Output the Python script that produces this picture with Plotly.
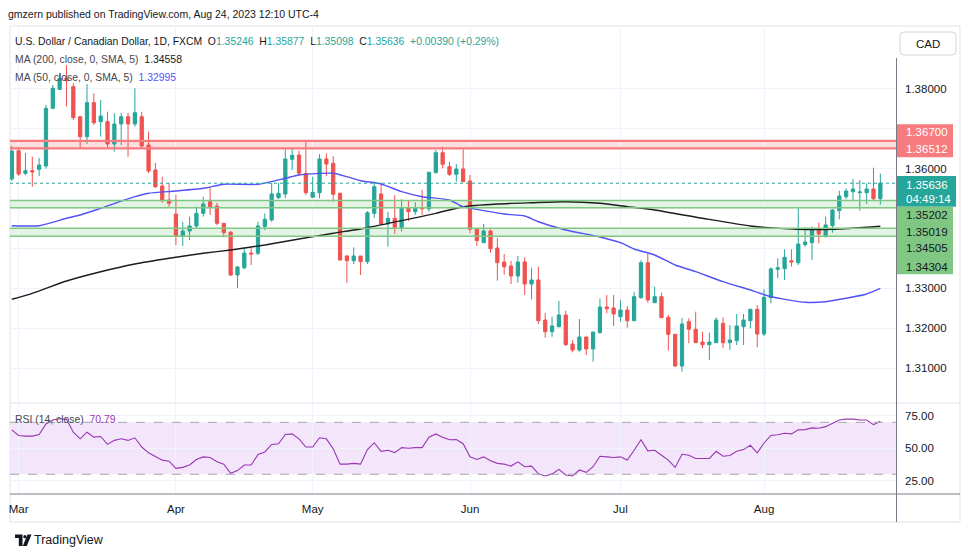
import plotly.graph_objects as go
import pandas as pd

# the page body has an 8px margin; the figure is sized/offset so page pixels match the reference
OFF = 8
W, H = 970 - 2 * OFF, 557 - 2 * OFF

# ---------------- data ----------------
dates = [d.strftime("%Y-%m-%d") for d in pd.bdate_range("2023-02-28", "2023-08-24")]

open_ = [1.35742, 1.36452, 1.35885, 1.3595, 1.35985, 1.36068, 1.37516, 1.37992, 1.38276, 1.38058,
         1.37305, 1.36803, 1.37656, 1.3718, 1.3718, 1.3662, 1.37122, 1.37305, 1.37122, 1.37305,
         1.36595, 1.35968, 1.35566, 1.35215, 1.34864, 1.34319, 1.34437, 1.34563, 1.34881, 1.35172,
         1.35064, 1.3463, 1.34405, 1.33333, 1.33516, 1.33885, 1.33878, 1.34545, 1.34713, 1.35273,
         1.35366, 1.36236, 1.36344, 1.35885, 1.35283, 1.35398, 1.36244, 1.36136, 1.35383, 1.3381,
         1.33692, 1.3381, 1.33667, 1.34881, 1.35366, 1.34613, 1.34756, 1.3452, 1.35007, 1.34921,
         1.35022, 1.34989, 1.359, 1.36402, 1.36051, 1.3586, 1.35993, 1.35692, 1.3448, 1.34144,
         1.34437, 1.34011, 1.3366, 1.33559, 1.33308, 1.3366, 1.33107, 1.33208, 1.32204, 1.31911,
         1.32036, 1.3233, 1.31602, 1.31452, 1.31778, 1.31477, 1.31886, 1.3253, 1.32505, 1.32287,
         1.32455, 1.32187, 1.32764, 1.33642, 1.32638, 1.32789, 1.32272, 1.31845, 1.3105, 1.32162,
         1.31971, 1.31652, 1.31585, 1.31635, 1.32121, 1.31635, 1.31685, 1.32036, 1.32187, 1.32473,
         1.31853, 1.32764, 1.33476, 1.33491, 1.33692, 1.33642, 1.34094, 1.34144, 1.34462, 1.34294,
         1.3457, 1.34947, 1.35298, 1.35423, 1.35398, 1.35398, 1.35491, 1.35246]
high = [1.3657, 1.36552, 1.36394, 1.36301, 1.36269, 1.37599, 1.381, 1.38394, 1.38602, 1.38143,
        1.37305, 1.38125, 1.37892, 1.37724, 1.3743, 1.3739, 1.37405, 1.37398, 1.38018, 1.3743,
        1.36929, 1.36143, 1.358, 1.35642, 1.3534, 1.34663, 1.34796, 1.35047, 1.35298, 1.35524,
        1.3514, 1.3463, 1.34437, 1.3356, 1.34003, 1.3401, 1.3467, 1.34881, 1.35642, 1.35642,
        1.36487, 1.36495, 1.36452, 1.36678, 1.358, 1.36369, 1.36387, 1.36319, 1.35398, 1.33835,
        1.34028, 1.3381, 1.34939, 1.35674, 1.35649, 1.34921, 1.3534, 1.35233, 1.35215, 1.35157,
        1.35466, 1.3591, 1.3647, 1.36552, 1.36176, 1.36118, 1.36487, 1.35842, 1.3448, 1.34613,
        1.3448, 1.34262, 1.3386, 1.33692, 1.3381, 1.33777, 1.33516, 1.33542, 1.32387, 1.32287,
        1.32681, 1.32437, 1.31702, 1.32229, 1.31778, 1.31903, 1.32749, 1.32831, 1.32831, 1.32706,
        1.32555, 1.32914, 1.3371, 1.33878, 1.3304, 1.32889, 1.3233, 1.31853, 1.32254, 1.32247,
        1.32413, 1.31911, 1.31886, 1.32272, 1.32272, 1.32079, 1.32355, 1.32355, 1.32473, 1.3258,
        1.32975, 1.33526, 1.33752, 1.33978, 1.33978, 1.35007, 1.3453, 1.34545, 1.34645, 1.34796,
        1.34982, 1.35448, 1.35509, 1.35742, 1.35717, 1.35634, 1.36025, 1.35877]
low = [1.35692, 1.35817, 1.35842, 1.35549, 1.35817, 1.36, 1.37491, 1.37975, 1.37556, 1.37222,
       1.36495, 1.3662, 1.37097, 1.36803, 1.36512, 1.36427, 1.36595, 1.36301, 1.37054, 1.36495,
       1.35885, 1.35516, 1.35147, 1.35047, 1.34086, 1.34061, 1.34211, 1.34512, 1.34796, 1.34839,
       1.34588, 1.34279, 1.33308, 1.33, 1.33476, 1.33584, 1.33835, 1.34462, 1.3467, 1.3524,
       1.35258, 1.35968, 1.35842, 1.3534, 1.35265, 1.35258, 1.35817, 1.35172, 1.33692, 1.3314,
       1.33609, 1.33333, 1.33609, 1.34771, 1.34588, 1.34043, 1.34362, 1.3442, 1.34688, 1.34839,
       1.34839, 1.34921, 1.35885, 1.3601, 1.35817, 1.35674, 1.35674, 1.3438, 1.34061, 1.34144,
       1.33893, 1.3319, 1.33341, 1.33107, 1.3314, 1.32831, 1.32724, 1.32104, 1.3176, 1.31785,
       1.32021, 1.31552, 1.31394, 1.31409, 1.31326, 1.31158, 1.31869, 1.32372, 1.32054, 1.32162,
       1.32011, 1.32187, 1.32739, 1.32638, 1.32638, 1.32262, 1.31434, 1.31033, 1.30907, 1.3162,
       1.31635, 1.31494, 1.312, 1.31635, 1.31494, 1.31452, 1.31577, 1.31577, 1.31996, 1.31519,
       1.31803, 1.32623, 1.33251, 1.33208, 1.33542, 1.33584, 1.34043, 1.3371, 1.34129, 1.34279,
       1.34395, 1.34731, 1.35233, 1.35215, 1.34947, 1.35115, 1.3519, 1.35098]
close = [1.36444, 1.35867, 1.3595, 1.35918, 1.36093, 1.37516, 1.38018, 1.38268, 1.38208, 1.3728,
         1.36803, 1.37656, 1.37154, 1.37323, 1.3662, 1.37122, 1.37305, 1.37122, 1.37405, 1.3657,
         1.35943, 1.35549, 1.35197, 1.35132, 1.34319, 1.34437, 1.34563, 1.34881, 1.35115, 1.35047,
         1.3463, 1.34395, 1.33333, 1.33534, 1.33885, 1.3386, 1.34563, 1.34731, 1.35366, 1.35383,
         1.36244, 1.36337, 1.35885, 1.35398, 1.35408, 1.36244, 1.36118, 1.35358, 1.3371, 1.33692,
         1.3381, 1.33667, 1.34896, 1.35549, 1.34613, 1.34756, 1.3452, 1.35007, 1.34921, 1.35007,
         1.34997, 1.3591, 1.36402, 1.36111, 1.3586, 1.35993, 1.35674, 1.3448, 1.34194, 1.34437,
         1.33993, 1.33642, 1.33542, 1.33308, 1.3366, 1.33107, 1.33208, 1.32187, 1.31911, 1.32054,
         1.3233, 1.31585, 1.31452, 1.31778, 1.31477, 1.31903, 1.3253, 1.32488, 1.32355, 1.32455,
         1.32187, 1.32789, 1.33642, 1.32706, 1.32789, 1.32262, 1.31845, 1.3105, 1.32104, 1.31971,
         1.31635, 1.31585, 1.31652, 1.32204, 1.31635, 1.31702, 1.32054, 1.32204, 1.32473, 1.31853,
         1.32774, 1.33484, 1.33516, 1.33777, 1.3366, 1.34111, 1.34161, 1.34462, 1.34362, 1.34588,
         1.34964, 1.35315, 1.35441, 1.35491, 1.35416, 1.35491, 1.35246, 1.35636]

ma50_idx = [0, 4, 8, 10, 13, 18, 20, 24, 28, 31, 36, 40, 42, 47, 49, 51, 54, 57, 60, 64, 66, 69,
            72, 75, 77, 81, 86, 89, 91, 94, 97, 100, 104, 108, 111, 116, 119, 122, 125, 127]
ma50_val = [1.3457, 1.3457, 1.34756, 1.34839, 1.35007, 1.35298, 1.35383, 1.35441, 1.35509, 1.35609,
            1.35609, 1.3576, 1.35842, 1.35885, 1.358, 1.35699, 1.35617, 1.35423, 1.35298, 1.35215,
            1.35047, 1.34947, 1.34864, 1.34814, 1.3467, 1.34462, 1.34287, 1.34144, 1.33986, 1.33835,
            1.33584, 1.33416, 1.33165, 1.32957, 1.32789, 1.32648, 1.32663, 1.32749, 1.32857, 1.32995]
ma200_idx = [0, 3, 8, 13, 18, 23, 28, 32, 37, 42, 47, 52, 57, 62, 66, 71, 76, 81, 86, 90, 94,
             101, 108, 115, 120, 127]
ma200_val = [1.32724, 1.32874, 1.33183, 1.33416, 1.33609, 1.33752, 1.33878, 1.33961, 1.34086, 1.34237,
             1.3438, 1.3452, 1.34696, 1.34881, 1.35047, 1.35115, 1.35147, 1.35172, 1.35132, 1.35047,
             1.34964, 1.34756, 1.34563, 1.3448, 1.3448, 1.34558]

rsi = [64.2, 59.9, 59.4, 59.4, 60.6, 68.7, 71.8, 72.8, 72.3, 62.4, 57.3, 62.4, 58.6, 59.1, 53.0,
       56.1, 57.3, 56.1, 58.1, 51.0, 46.5, 43.4, 40.9, 40.1, 34.6, 35.3, 37.1, 41.4, 43.4, 42.9,
       39.6, 37.8, 30.8, 32.8, 37.1, 37.1, 45.2, 47.2, 53.0, 53.5, 60.6, 61.1, 57.3, 51.0, 51.0,
       58.1, 57.3, 49.7, 37.8, 37.8, 38.4, 37.8, 49.0, 54.3, 47.7, 48.5, 46.7, 50.5, 50.0, 50.5,
       50.5, 58.6, 61.1, 58.6, 56.6, 56.8, 53.5, 43.4, 41.4, 43.4, 40.4, 38.4, 37.8, 36.3, 39.6,
       35.8, 36.3, 30.3, 28.7, 30.3, 33.8, 29.5, 28.7, 33.3, 31.5, 35.8, 43.9, 43.4, 42.9, 43.4,
       40.9, 48.5, 56.6, 48.0, 48.5, 44.7, 40.9, 35.3, 45.4, 44.7, 42.2, 42.2, 42.2, 47.7, 43.9,
       44.4, 47.7, 49.0, 52.3, 46.5, 54.1, 59.9, 60.4, 61.6, 61.1, 64.2, 64.4, 65.7, 65.4, 66.7,
       69.5, 71.8, 72.5, 72.5, 71.8, 71.8, 68.2, 70.79]

month_ticks = ["2023-03-01", "2023-04-03", "2023-05-01", "2023-06-01", "2023-07-03", "2023-08-01"]
month_labels = ["Mar", "Apr", "May", "Jun", "Jul", "Aug"]
price_ticks = [1.31, 1.32, 1.33, 1.34, 1.35, 1.36, 1.37, 1.38]
price_labels = ["1.31000", "1.32000", "1.33000", "", "", "1.36000", "", "1.38000"]
rsi_ticks = [25, 50, 75]
rsi_labels = ["25.00", "50.00", "75.00"]
resistance_zone = [1.36512, 1.36700]
support_zones = [[1.35019, 1.35202], [1.34304, 1.34505]]
last_price = 1.35636
countdown = "04:49:14"
rsi_band = [30, 70]

# ---------------- helpers (page pixel -> paper) ----------------
def fx(x):
    return (x - OFF) / W

def fy(y):
    return 1 - (y - OFF) / H

UP, DOWN = "#26a69a", "#ef5350"
TXT = "#131722"
GRID = "#f0f3fa"
FONT = "Liberation Sans, Arial, sans-serif"
AXFONT = "Liberation Sans, Arial, sans-serif"
MA50C = "#5252f7"
RSIC = "#9a35b4"

X0, X1 = 10, 896
MAIN_T, MAIN_B = 28, 403
RSI_T, RSI_B = 403, 494

fig = go.Figure()

fig.add_trace(go.Candlestick(
    x=dates, open=open_, high=high, low=low, close=close,
    increasing=dict(fillcolor=UP, line=dict(color=UP, width=1)),
    decreasing=dict(fillcolor=DOWN, line=dict(color=DOWN, width=1)),
    whiskerwidth=0, xaxis="x", yaxis="y", showlegend=False, hoverinfo="skip"))

fig.add_trace(go.Scatter(x=[dates[i] for i in ma200_idx], y=ma200_val, mode="lines",
                         line=dict(color="#1c1c1c", width=1.4, shape="spline", smoothing=0.6),
                         xaxis="x", yaxis="y", showlegend=False, hoverinfo="skip"))
fig.add_trace(go.Scatter(x=[dates[i] for i in ma50_idx], y=ma50_val, mode="lines",
                         line=dict(color=MA50C, width=1.4, shape="spline", smoothing=0.6),
                         xaxis="x", yaxis="y", showlegend=False, hoverinfo="skip"))
fig.add_trace(go.Scatter(x=dates, y=rsi, mode="lines",
                         line=dict(color=RSIC, width=1.1),
                         xaxis="x2", yaxis="y2", showlegend=False, hoverinfo="skip"))

shapes = []
shapes.append(dict(type="rect", xref="paper", yref="paper", x0=fx(10), x1=fx(960), y0=fy(522), y1=fy(26),
                   line=dict(color="#e0e3eb", width=1), layer="below"))
shapes.append(dict(type="rect", xref="x2 domain", yref="y2", x0=0, x1=1, y0=rsi_band[0], y1=rsi_band[1],
                   fillcolor="#f3e6fa", line=dict(width=0), layer="below"))
for lv in rsi_band:
    shapes.append(dict(type="line", xref="x2 domain", yref="y2", x0=0, x1=1, y0=lv, y1=lv,
                       line=dict(color="#a3a6af", width=1, dash="dash")))
shapes.append(dict(type="rect", xref="x domain", yref="y", x0=0, x1=1, y0=resistance_zone[0], y1=resistance_zone[1],
                   fillcolor="rgba(247,124,128,0.25)", line=dict(width=0), layer="below"))
for lv in resistance_zone:
    shapes.append(dict(type="line", xref="x domain", yref="y", x0=0, x1=1, y0=lv, y1=lv,
                       line=dict(color="#f77c80", width=2.2)))
for z in support_zones:
    shapes.append(dict(type="rect", xref="x domain", yref="y", x0=0, x1=1, y0=z[0], y1=z[1],
                       fillcolor="rgba(129,199,132,0.22)", line=dict(width=0), layer="below"))
    for lv in z:
        shapes.append(dict(type="line", xref="x domain", yref="y", x0=0, x1=1, y0=lv, y1=lv,
                           line=dict(color="#81c784", width=1.5)))
shapes.append(dict(type="line", xref="x domain", yref="y", x0=0, x1=1, y0=last_price, y1=last_price,
                   line=dict(color=UP, width=1, dash="dot")))
shapes.append(dict(type="line", xref="paper", yref="paper", x0=fx(10), x1=fx(960), y0=fy(403), y1=fy(403),
                   line=dict(color="#e0e3eb", width=1)))
shapes.append(dict(type="line", xref="paper", yref="paper", x0=fx(10), x1=fx(960), y0=fy(494), y1=fy(494),
                   line=dict(color="#787b86", width=1)))
shapes.append(dict(type="line", xref="paper", yref="paper", x0=fx(896.5), x1=fx(896.5), y0=fy(58), y1=fy(522),
                   line=dict(color="#787b86", width=1)))
shapes.append(dict(type="rect", xref="paper", yref="paper", x0=fx(897), x1=fx(953), y0=fy(157.3), y1=fy(124.3),
                   fillcolor="#f77c80", line=dict(width=0)))
shapes.append(dict(type="rect", xref="paper", yref="paper", x0=fx(897), x1=fx(956), y0=fy(206.7), y1=fy(176),
                   fillcolor=UP, line=dict(width=0)))
shapes.append(dict(type="rect", xref="paper", yref="paper", x0=fx(897), x1=fx(953), y0=fy(274.3), y1=fy(206.7),
                   fillcolor="#81c784", line=dict(width=0)))

def rrect(x0, y0, x1, y1, r):
    p = [f"M {fx(x0 + r)} {fy(y0)}", f"L {fx(x1 - r)} {fy(y0)}",
         f"Q {fx(x1)} {fy(y0)} {fx(x1)} {fy(y0 + r)}", f"L {fx(x1)} {fy(y1 - r)}",
         f"Q {fx(x1)} {fy(y1)} {fx(x1 - r)} {fy(y1)}", f"L {fx(x0 + r)} {fy(y1)}",
         f"Q {fx(x0)} {fy(y1)} {fx(x0)} {fy(y1 - r)}", f"L {fx(x0)} {fy(y0 + r)}",
         f"Q {fx(x0)} {fy(y0)} {fx(x0 + r)} {fy(y0)} Z"]
    return " ".join(p)

shapes.append(dict(type="path", xref="paper", yref="paper", path=rrect(900, 32, 956, 55, 4),
                   fillcolor="white", line=dict(color="#d1d4dc", width=1)))

def poly(pts):
    return "M " + " L ".join(f"{fx(a)} {fy(b)}" for a, b in pts) + " Z"

shapes.append(dict(type="path", xref="paper", yref="paper",
                   path=poly([(15, 534.5), (22.5, 534.5), (22.5, 546), (18.8, 546), (18.8, 538), (15, 538)]),
                   fillcolor=TXT, line=dict(width=0)))
shapes.append(dict(type="circle", xref="paper", yref="paper", x0=fx(23.3), x1=fx(26.5), y0=fy(538.3), y1=fy(535.1),
                   fillcolor=TXT, line=dict(width=0)))
shapes.append(dict(type="path", xref="paper", yref="paper",
                   path=poly([(27.5, 534.5), (31.5, 534.5), (26.8, 546), (22.8, 546)]),
                   fillcolor=TXT, line=dict(width=0)))

annotations = []

def ann(x, y, text, size=12, color=TXT, family=FONT, xanchor="left"):
    annotations.append(dict(x=fx(x), y=fy(y), xref="paper", yref="paper", text=text, showarrow=False,
                            xanchor=xanchor, yanchor="middle", borderpad=0,
                            font=dict(size=size, color=color, family=family)))

SP = "\u00a0"
def c(v, col):
    return f"<span style='color:{col}'>{v}</span>"

LEG = 10.4
ann(7, 14, "gmzern published on TradingView.com, Aug 24, 2023 12:10 UTC-4", size=10.5)
chg = close[-1] - close[-2]
pct = chg / close[-2] * 100
row1 = ("U.S. Dollar / Canadian Dollar, 1D, FXCM" + SP * 2 +
        "O" + c(f"{open_[-1]:.5f}", UP) + SP * 2 + "H" + c(f"{high[-1]:.5f}", UP) + SP * 2 +
        "L" + c(f"{low[-1]:.5f}", UP) + SP * 2 + "C" + c(f"{close[-1]:.5f}", UP) + SP * 2 +
        c(f"+{chg:.5f} (+{pct:.2f}%)", UP))
ann(14, 41.5, row1, size=LEG)
ann(14, 59.5, "MA (200, close, 0, SMA, 5)" + SP * 2 + c(f"{ma200_val[-1]:.5f}", TXT), size=LEG, color="#434651")
ann(14, 77.5, "MA (50, close, 0, SMA, 5)" + SP * 2 + c(f"{ma50_val[-1]:.5f}", MA50C), size=LEG, color="#434651")
ann(14, 419, "RSI (14, close)" + SP * 2 + c(f"{rsi[-1]:.2f}", RSIC), size=LEG, color="#434651")

ann(928, 43.5, "CAD", size=11.5, family=AXFONT, xanchor="center")
ann(905, 132.3, f"{resistance_zone[1]:.5f}", size=11.5, color="white", family=AXFONT)
ann(905, 149.3, f"{resistance_zone[0]:.5f}", size=11.5, color="white", family=AXFONT)
ann(905, 185, f"{last_price:.5f}", size=11.5, color="white", family=AXFONT)
ann(905, 199.5, countdown, size=11.5, color="white", family=AXFONT)
for yy, v in zip([215, 231.7, 248.3, 266.7],
                 [support_zones[0][1], support_zones[0][0], support_zones[1][1], support_zones[1][0]]):
    ann(905, yy, f"{v:.5f}", size=11.5, color=TXT, family=AXFONT)
ann(33, 540, "TradingView", size=12.5, family=FONT)

xrange = [-0.26, 129.29]
common_x = dict(type="category", categoryorder="array", categoryarray=dates, range=xrange,
                domain=[fx(X0), fx(X1)], tickmode="array", tickvals=month_ticks,
                showgrid=True, gridcolor=GRID, gridwidth=1, zeroline=False, showline=False,
                fixedrange=True, automargin=False)

fig.update_layout(
    width=W, height=H, margin=dict(l=0, r=0, t=0, b=0),
    paper_bgcolor="white", plot_bgcolor="white",
    showlegend=False, boxgap=0.32,
    xaxis=dict(**common_x, anchor="y", showticklabels=False, ticks="", rangeslider=dict(visible=False)),
    xaxis2=dict(**common_x, anchor="y2", matches="x", showticklabels=True, ticktext=month_labels,
                ticks="", tickfont=dict(size=11.5, color=TXT, family=AXFONT), ticklabelstandoff=6),
    yaxis=dict(domain=[fy(MAIN_B), fy(MAIN_T)], range=[1.30122, 1.3953], side="right", anchor="x",
               tickmode="array", tickvals=price_ticks, ticktext=price_labels, showgrid=True,
               gridcolor=GRID, zeroline=False, showline=False, ticks="", ticklabelstandoff=8,
               tickfont=dict(size=11.5, color=TXT, family=AXFONT), automargin=False, fixedrange=True),
    yaxis2=dict(domain=[fy(RSI_B), fy(RSI_T)], range=[14.8, 84.9], side="right", anchor="x2",
                tickmode="array", tickvals=rsi_ticks, ticktext=rsi_labels, showgrid=True,
                gridcolor=GRID, zeroline=False, showline=False, ticks="", ticklabelstandoff=8,
                tickfont=dict(size=11.5, color=TXT, family=AXFONT), automargin=False, fixedrange=True),
    shapes=shapes, annotations=annotations,
)

fig.write_html("out.html")
